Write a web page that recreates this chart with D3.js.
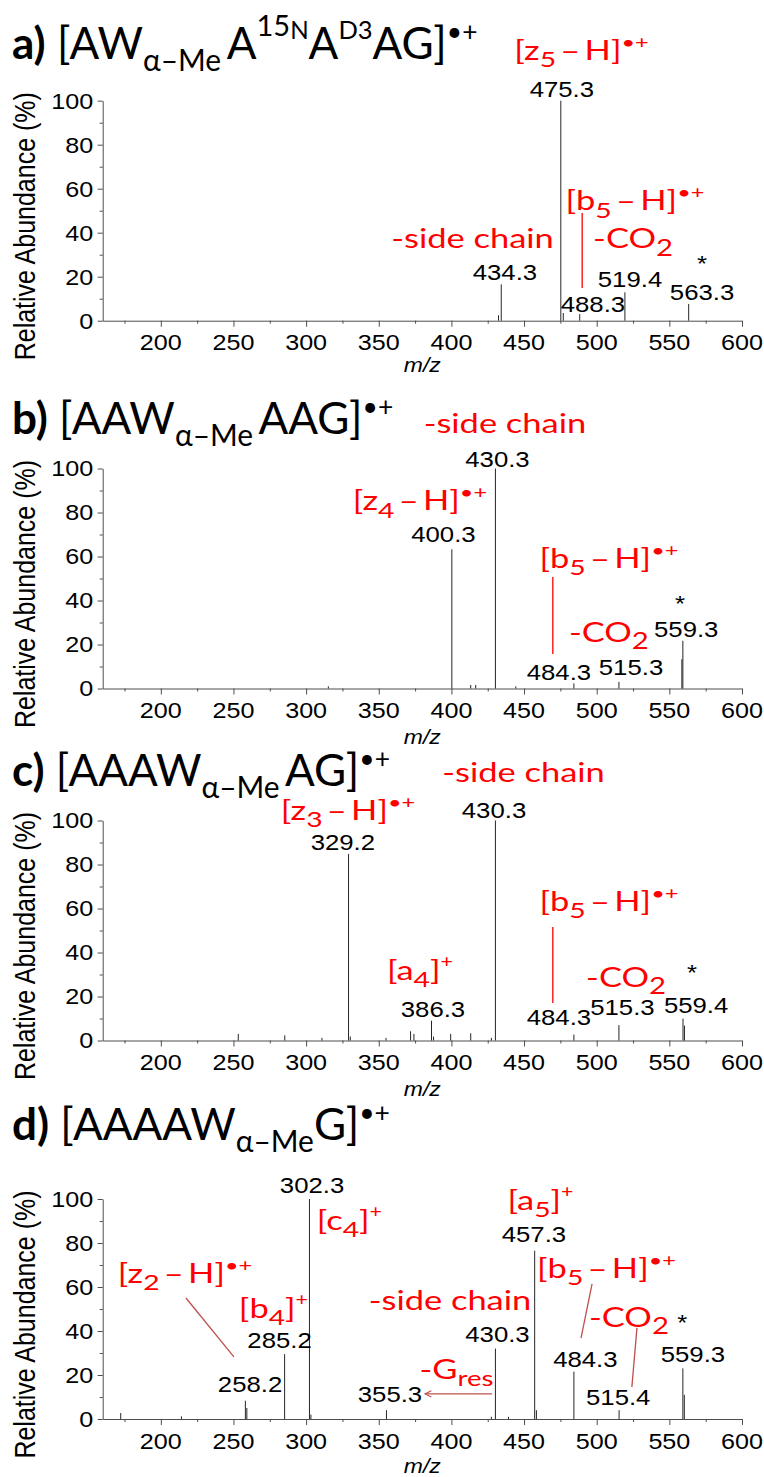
<!DOCTYPE html>
<html>
<head>
<meta charset="utf-8">
<script src="https://cdn.jsdelivr.net/npm/d3@7"></script>
<style>
  html, body { margin: 0; padding: 0; background: #fff; }
  svg { display: block; }
</style>
</head>
<body>
<script>
// ---- axis ticks ----
const mzTicks = [200, 250, 300, 350, 400, 450, 500, 550, 600];
const mzMinorTicks = [175, 225, 275, 325, 375, 425, 475, 525, 575];
const abundanceTicks = [0, 20, 40, 60, 80, 100];
const abundanceMinorTicks = [10, 30, 50, 70, 90];

// ---- spectra: [m/z, relative abundance %] ----
const peaksA = [[432.4, 2.5], [434.3, 16.5], [475.3, 100], [477.0, 3.5], [488.3, 3.0],
                [519.4, 12.9], [563.3, 7.6]];
const peaksB = [[315.3, 1.0], [400.3, 63.3], [413.3, 1.6], [416.7, 1.6], [430.3, 100],
                [444.3, 1.0], [484.3, 2.3], [515.3, 3.0], [558.6, 13.3], [559.3, 21.7]];
const peaksC = [[253.3, 3.0], [285.3, 2.3], [310.9, 1.2], [329.2, 84.8], [330.4, 1.8],
                [355.0, 1.2], [371.9, 4.2], [374.2, 3.0], [386.3, 9.0], [387.7, 1.8],
                [399.5, 3.0], [413.3, 3.3], [427.5, 1.2], [430.3, 100], [484.3, 2.7],
                [515.3, 7.0], [559.4, 10.0], [560.4, 6.8]];
const peaksD = [[172.4, 2.7], [214.2, 1.2], [258.2, 8.3], [259.2, 5.0], [285.2, 29.5],
                [302.3, 100], [303.3, 2.0], [355.3, 4.0], [427.5, 1.0], [430.3, 32.0],
                [439.3, 1.0], [457.3, 76.5], [458.5, 4.0], [484.3, 21.5], [515.4, 4.0],
                [559.3, 23.0], [560.3, 11.0]];

// ---- labelled peaks (m/z) per spectrum ----
const labelledA = [434.3, 475.3, 488.3, 519.4, 563.3];
const labelledB = [400.3, 430.3, 484.3, 515.3, 559.3];
const labelledC = [329.2, 386.3, 430.3, 484.3, 515.3, 559.4];
const labelledD = [258.2, 285.2, 302.3, 355.3, 430.3, 457.3, 484.3, 515.4, 559.3];

// ---- text pieces ----
const SUB_ME = "\u03b1\u2013Me";
const RADICAL = {t: "\u2022+", sup: true, k: 0.6, up: 0.42};
const titleA = [{t: "a)", bold: true}, {t: " [AW"}, {t: SUB_ME, sub: true, k: 0.68}, {t: "\u2009A"},
                {t: "15", sup: true, k: 0.66, up: 0.52}, {t: "N", sup: true, k: 0.55, up: 0.45},
                {t: "A"}, {t: "D3", sup: true, k: 0.58}, {t: "AG]"}, RADICAL];
const titleB = [{t: "b)", bold: true}, {t: " [AAW"}, {t: SUB_ME, sub: true, k: 0.68}, {t: "\u2009AAG]"},
                RADICAL];
const titleC = [{t: "c)", bold: true}, {t: " [AAAW"}, {t: SUB_ME, sub: true, k: 0.68}, {t: "\u2009AG]"},
                RADICAL];
const titleD = [{t: "d)", bold: true}, {t: " [AAAAW"}, {t: SUB_ME, sub: true, k: 0.68}, {t: "G]"},
                RADICAL];

const ion = (letter, n, radical) => radical
  ? [{t: "[" + letter}, {t: String(n), sub: true, k: 0.82}, {t: "\u2009\u2013\u2009H]"},
     {t: "\u2022+", sup: true, k: 0.68, up: 0.42}]
  : [{t: "[" + letter}, {t: String(n), sub: true, k: 0.82}, {t: "]"}, {t: "+", sup: true, k: 0.62}];
const SIDE_CHAIN = [{t: "-side chain"}];
const LOSS_CO2 = [{t: "-CO"}, {t: "2", sub: true, k: 0.85}];
const LOSS_GRES = [{t: "-G"}, {t: "res", sub: true, k: 0.8}];

// ---- page layout ----
const W = 764, H = 1477;
const plotLeft = 102.7, plotRight = 742, plotH = 220;
const RED = "#ff0000";
const LEADER_DARK = "#c0504d";

const panels = [
  {
    top: 100.7, title: titleA, titleY: 59, mzTitleGap: 51, peaks: peaksA, labelled: labelledA,
    peakLabelAt: {434.3: [436.8, 18.5], 475.3: [476, 101.9], 488.3: [497.4, 4.1],
                  519.4: [522.9, 15.5], 563.3: [572.5, 9.4]},
    star: [572.5, 22.6],
    notes: [
      {parts: ion("z", 5, true), at: [489.5, 118.5]},
      {parts: ion("b", 5, true), at: [526.3, 50.2]},
      {parts: LOSS_CO2, at: [525, 32.9]},
      {parts: SIDE_CHAIN, at: [414.5, 33]}
    ],
    leaders: [{from: [490, 48.9], to: [490, 14.9], color: RED}]
  },
  {
    top: 468.5, title: titleB, titleY: 434, mzTitleGap: 55, peaks: peaksB, labelled: labelledB,
    peakLabelAt: {400.3: [394.5, 66.6], 430.3: [431.7, 100.7], 484.3: [474, 3.9],
                  515.3: [523.6, 6.1], 559.3: [561.6, 23.4]},
    star: [557.4, 35.2],
    notes: [
      {parts: SIDE_CHAIN, at: [436.8, 116.1]},
      {parts: ion("z", 4, true), at: [378.3, 81]},
      {parts: ion("b", 5, true), at: [508.4, 54.8]},
      {parts: LOSS_CO2, at: [508.4, 21.3]}
    ],
    leaders: [{from: [469.8, 50.7], to: [469.8, 15.7], color: RED}]
  },
  {
    top: 820.5, title: titleC, titleY: 786, mzTitleGap: 55, peaks: peaksC, labelled: labelledC,
    peakLabelAt: {329.2: [325.3, 86.4], 386.3: [387.3, 10.7], 430.3: [429.3, 101.1],
                  484.3: [474, 7.0], 515.3: [517.7, 11.6], 559.4: [568.4, 12.5]},
    star: [565.6, 27.5],
    notes: [
      {parts: SIDE_CHAIN, at: [449.6, 117.5]},
      {parts: ion("z", 3, true), at: [328.8, 100.3]},
      {parts: ion("b", 5, true), at: [508.4, 58.9]},
      {parts: ion("a", 4, false), at: [378.3, 27.5]},
      {parts: LOSS_CO2, at: [520.2, 24.5]}
    ],
    leaders: [{from: [469.8, 51.6], to: [469.8, 17], color: RED}]
  },
  {
    top: 1199, title: titleD, titleY: 1140, mzTitleGap: 54, peaks: peaksD, labelled: labelledD,
    peakLabelAt: {258.2: [261.4, 12.3], 285.2: [281.7, 32.3], 302.3: [304.1, 102.7],
                  355.3: [357.7, 7.7], 430.3: [431.7, 35], 457.3: [456.8, 80.5],
                  484.3: [492.2, 23.6], 515.4: [514.8, 6.4], 559.3: [566.2, 25.9]},
    star: [558.8, 40.5],
    notes: [
      {parts: ion("c", 4, false), at: [329.8, 85.9]},
      {parts: ion("a", 5, false), at: [461.3, 95]},
      {parts: ion("z", 2, true), at: [216.6, 61.8]},
      {parts: ion("b", 4, false), at: [277.5, 45.9]},
      {parts: SIDE_CHAIN, at: [399, 49.5]},
      {parts: ion("b", 5, true), at: [506.7, 64.1]},
      {parts: LOSS_CO2, at: [522.2, 42]},
      {parts: LOSS_GRES, at: [403.5, 18.2]}
    ],
    leaders: [
      {from: [217.3, 55], to: [250.3, 28.2], color: LEADER_DARK},
      {from: [496.8, 61.4], to: [489.2, 36.8], color: LEADER_DARK},
      {from: [527.7, 41.4], to: [524.2, 14.5], color: LEADER_DARK}
    ],
    arrow: {from: [428, 11.4], to: [381.8, 11.4], color: LEADER_DARK}
  }
];

// ---- fonts ----
const NUM_FONT = "Arial, 'Liberation Sans', sans-serif";
const LABEL_FONT = "Lato, 'Open Sans', sans-serif";
const NUM = {family: NUM_FONT, size: 23, sx: 1.12, anchor: "middle", fill: "#000"};
const NOTE = {family: LABEL_FONT, size: 26.5, sx: 1.3, anchor: "middle", fill: RED};
const TITLE = {family: LABEL_FONT, size: 44, sx: 1.0, anchor: "start", fill: "#000"};

// Rich text with sub/superscripts, optionally stretched horizontally.
function richText(g, x, y, parts, o) {
  const wrap = g.append("g").attr("transform", `translate(${x},${y}) scale(${o.sx || 1},1)`);
  const t = wrap.append("text")
    .attr("font-family", o.family)
    .attr("font-size", o.size)
    .attr("fill", o.fill || "#000")
    .attr("text-anchor", o.anchor || "start");
  if (o.italic) t.attr("font-style", "italic");
  let shift = 0;
  parts.forEach(p => {
    const k = p.k || 0.62;
    const target = p.sub ? o.size * (p.down || 0.28) : p.sup ? -o.size * (p.up || 0.45) : 0;
    const ts = t.append("tspan").text(p.t).attr("dy", target - shift);
    if (p.sub || p.sup) ts.attr("font-size", o.size * k);
    if (p.bold) ts.attr("font-weight", "bold");
    shift = target;
  });
  return t;
}

const svg = d3.select("body").append("svg").attr("width", W).attr("height", H)
  .attr("viewBox", `0 0 ${W} ${H}`);

// open arrowhead, pointing along the line direction
svg.append("defs").append("marker")
  .attr("id", "openHead").attr("viewBox", "0 0 10 10")
  .attr("refX", 9).attr("refY", 5)
  .attr("markerWidth", 8).attr("markerHeight", 8)
  .attr("markerUnits", "userSpaceOnUse")
  .attr("orient", "auto")
  .append("path").attr("d", "M1,1 L9,5 L1,9").attr("fill", "none")
  .attr("stroke", LEADER_DARK).attr("stroke-width", 1.4);

const x = d3.scaleLinear().domain([160, 600]).range([plotLeft, plotRight]);

panels.forEach(p => {
  const y = d3.scaleLinear().domain([0, 100]).range([p.top + plotH, p.top]);
  const g = svg.append("g");
  const axisColor = "#4d4d4d";

  // title
  richText(g, 12, p.titleY, p.title, TITLE);

  // x axis
  g.append("g").attr("transform", `translate(0,${y(0)})`)
    .call(d3.axisBottom(x).tickValues(mzTicks).tickSize(6).tickSizeOuter(0).tickFormat(""));
  g.append("g").attr("transform", `translate(0,${y(0)})`)
    .call(d3.axisBottom(x).tickValues(mzMinorTicks).tickSize(3).tickSizeOuter(0).tickFormat(""))
    .select(".domain").remove();
  // y axis
  g.append("g").attr("transform", `translate(${plotLeft},0)`)
    .call(d3.axisLeft(y).tickValues(abundanceTicks).tickSize(5).tickSizeOuter(0).tickFormat(""));
  g.append("g").attr("transform", `translate(${plotLeft},0)`)
    .call(d3.axisLeft(y).tickValues(abundanceMinorTicks).tickSize(3).tickSizeOuter(0).tickFormat(""))
    .select(".domain").remove();
  g.selectAll(".domain, .tick line").attr("stroke", axisColor).attr("stroke-width", 1);

  // tick labels
  const TICK = {family: NUM_FONT, size: 21.5, sx: 1.17, anchor: "middle"};
  mzTicks.forEach(v => richText(g, x(v), y(0) + 29.5, [{t: String(v)}], TICK));
  abundanceTicks.forEach(v => richText(g, plotLeft - 9.5, y(v) + 7.8, [{t: String(v)}],
    Object.assign({}, TICK, {anchor: "end"})));

  // axis titles
  richText(g, x(380), y(0) + p.mzTitleGap, [{t: "m/z"}],
    {family: NUM_FONT, size: 20.5, sx: 1.12, anchor: "middle", italic: true});
  const yMid = (y(0) + y(100)) / 2 + 15.5;
  g.append("text")
    .attr("transform", `translate(35,${yMid}) scale(1.2,1) rotate(-90)`)
    .attr("text-anchor", "middle")
    .attr("font-family", NUM_FONT).attr("font-size", 25)
    .text("Relative Abundance (%)");

  // peaks
  g.append("g").selectAll("line").data(p.peaks).join("line")
    .attr("x1", d => x(d[0])).attr("x2", d => x(d[0]))
    .attr("y1", y(0)).attr("y2", d => y(d[1]))
    .attr("stroke", "#262626").attr("stroke-width", 1);

  // leader lines
  p.leaders.forEach(l => g.append("line")
    .attr("x1", x(l.from[0])).attr("y1", y(l.from[1]))
    .attr("x2", x(l.to[0])).attr("y2", y(l.to[1]))
    .attr("stroke", l.color).attr("stroke-width", 1.3));
  if (p.arrow) {
    g.append("line")
      .attr("x1", x(p.arrow.from[0])).attr("y1", y(p.arrow.from[1]))
      .attr("x2", x(p.arrow.to[0])).attr("y2", y(p.arrow.to[1]))
      .attr("stroke", p.arrow.color).attr("stroke-width", 1.4)
      .attr("marker-end", "url(#openHead)");
  }

  // peak m/z labels
  p.labelled.forEach(mz => {
    const at = p.peakLabelAt[mz];
    richText(g, x(at[0]), y(at[1]), [{t: d3.format(".1f")(mz)}], NUM);
  });
  richText(g, x(p.star[0]), y(p.star[1]), [{t: "*"}], NUM);

  // red ion annotations
  p.notes.forEach(n => richText(g, x(n.at[0]), y(n.at[1]), n.parts, NOTE));
});
</script>
</body>
</html>
